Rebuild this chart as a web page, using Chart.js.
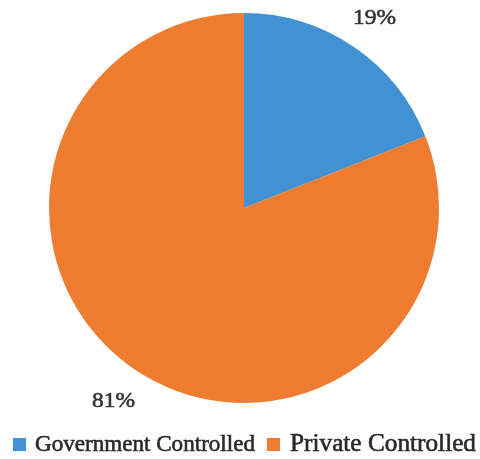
<!DOCTYPE html>
<html>
<head>
<meta charset="utf-8">
<script src="https://cdn.jsdelivr.net/npm/chart.js@4/dist/chart.umd.min.js"></script>
<style>
  html, body { margin: 0; padding: 0; background: #fff; }
  #wrap { width: 480px; height: 459px; position: relative; }
</style>
</head>
<body>
<div id="wrap"><canvas id="pie"></canvas></div>
<script>
const categories = ['Government Controlled', 'Private Controlled'];
const shares = [19, 81];
const sliceColors = ['#4191d3', '#ee7d31'];

// fill + thin stroke so the serif text looks as heavy as the scanned source
function drawText(ctx, text, x, y, targetWidth) {
    const w = ctx.measureText(text).width;
    ctx.save();
    ctx.translate(x, y);
    ctx.scale(targetWidth / w, 1);
    ctx.fillText(text, 0, 0);
    ctx.strokeText(text, 0, 0);
    ctx.restore();
}

// percent labels outside the pie, placed along each slice's middle angle
const outsideLabels = {
    id: 'outsideLabels',
    afterDatasetsDraw(chart) {
        const ctx = chart.ctx;
        const meta = chart.getDatasetMeta(0);
        ctx.save();
        ctx.fillStyle = '#333';
        ctx.strokeStyle = '#333';
        ctx.lineWidth = 0.6;
        ctx.font = '22px "Liberation Serif", serif';
        ctx.textAlign = 'center';
        ctx.textBaseline = 'alphabetic';
        meta.data.forEach((arc, i) => {
            const mid = (arc.startAngle + arc.endAngle) / 2;
            const r = arc.outerRadius * 1.19;
            const x = arc.x + Math.cos(mid) * r;
            const y = arc.y + Math.sin(mid) * r;
            drawText(ctx, shares[i] + '%', x, y + 7.5, 43);
        });
        ctx.restore();
    }
};

// bottom legend, the two entries use different text sizes like the source
const bottomLegend = {
    id: 'bottomLegend',
    afterDraw(chart) {
        const ctx = chart.ctx;
        const items = [
            { box: 13, textX: 35, size: 23, width: 220 },
            { box: 267, textX: 290, size: 25, width: 186 }
        ];
        ctx.save();
        ctx.textBaseline = 'alphabetic';
        ctx.textAlign = 'left';
        ctx.lineWidth = 0.6;
        items.forEach((it, i) => {
            ctx.fillStyle = sliceColors[i];
            ctx.fillRect(it.box, 438, 13, 13);
            ctx.fillStyle = '#2a2a2a';
            ctx.strokeStyle = '#2a2a2a';
            ctx.font = it.size + 'px "Liberation Serif", serif';
            drawText(ctx, categories[i], it.textX, 451, it.width);
        });
        ctx.restore();
    }
};

new Chart(document.getElementById('pie'), {
    type: 'pie',
    data: {
        labels: categories,
        datasets: [{
            data: shares,
            backgroundColor: sliceColors,
            borderWidth: 0
        }]
    },
    options: {
        responsive: true,
        maintainAspectRatio: false,
        animation: false,
        layout: {
            padding: { top: 13, bottom: 56, left: 49, right: 41 }
        },
        plugins: {
            legend: { display: false },
            tooltip: { enabled: false }
        }
    },
    plugins: [outsideLabels, bottomLegend]
});
</script>
</body>
</html>
